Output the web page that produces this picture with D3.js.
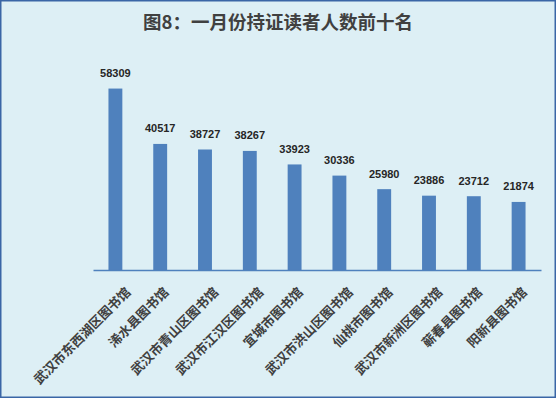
<!DOCTYPE html>
<html lang="zh">

<head>
  <meta charset="UTF-8">
  <title>图8：一月份持证读者人数前十名</title>
  <script src="https://d3js.org/d3.v7.min.js"></script>
  <style>
    body { margin: 0; background: #fff; }
  </style>
</head>

<body>
  <div id="chart"></div>

  <script>
    // 数据
    const libraries = ["武汉市东西湖区图书馆", "浠水县图书馆", "武汉市青山区图书馆", "武汉市江汉区图书馆",
      "宜城市图书馆", "武汉市洪山区图书馆", "仙桃市图书馆", "武汉市新洲区图书馆", "蕲春县图书馆", "阳新县图书馆"];
    const readers = [58309, 40517, 38727, 38267, 33923, 30336, 25980, 23886, 23712, 21874];
    const yMax = 60000;

    const width = 556, height = 398;
    const plot = { left: 93, right: 541, top: 83.3, bottom: 270 };

    const svg = d3.select("#chart")
      .append("svg")
      .attr("width", width)
      .attr("height", height);

    // 背景和边框
    svg.append("rect")
      .attr("x", 0.75).attr("y", 0.75)
      .attr("width", width - 1.5).attr("height", height - 1.5)
      .attr("fill", "#DDEFF5")
      .attr("stroke", "#3A66A6")
      .attr("stroke-width", 1.5);

    // 标题
    svg.append("text")
      .attr("x", width / 2)
      .attr("y", 29)
      .attr("text-anchor", "middle")
      .attr("font-family", "'Noto Sans CJK SC', sans-serif")
      .attr("font-weight", "bold")
      .attr("font-size", "18.5px")
      .attr("fill", "#404040")
      .text("图8：一月份持证读者人数前十名");

    const x = d3.scaleBand()
      .domain(libraries)
      .range([plot.left, plot.right])
      .paddingInner(0.69)
      .paddingOuter(0.345);

    const y = d3.scaleLinear()
      .domain([0, yMax])
      .range([plot.bottom, plot.top]);

    const data = libraries.map((name, i) => ({ name: name, value: readers[i] }));

    // 柱子
    svg.selectAll(".bar")
      .data(data)
      .enter()
      .append("rect")
      .attr("class", "bar")
      .attr("x", d => x(d.name))
      .attr("y", d => y(d.value))
      .attr("width", x.bandwidth())
      .attr("height", d => y(0) - y(d.value))
      .attr("fill", "#4F81BD");

    // 数值标签
    svg.selectAll(".value")
      .data(data)
      .enter()
      .append("text")
      .attr("class", "value")
      .attr("x", d => x(d.name) + x.bandwidth() / 2)
      .attr("y", d => y(d.value) - 11.5)
      .attr("text-anchor", "middle")
      .attr("font-family", "'Liberation Sans', Arial, sans-serif")
      .attr("font-weight", "bold")
      .attr("font-size", "11px")
      .attr("fill", "#262626")
      .text(d => d.value);

    // X轴
    const xAxis = svg.append("g")
      .attr("transform", `translate(0,${plot.bottom})`)
      .call(d3.axisBottom(x).tickSize(0).tickSizeOuter(0));

    xAxis.select(".domain")
      .attr("stroke", "#4F81BD")
      .attr("stroke-width", 1.5);

    // 斜45度标签，长的标签向右多偏一点
    xAxis.selectAll(".tick text")
      .attr("x", 0)
      .attr("y", 0)
      .attr("dy", 0)
      .attr("transform", d => `translate(${1.7 * d.length - 1},23) rotate(-45)`)
      .attr("text-anchor", "end")
      .attr("font-family", "'Noto Sans CJK SC', sans-serif")
      .attr("font-weight", "bold")
      .attr("font-size", "13px")
      .attr("fill", "#404040");
  </script>
</body>

</html>
